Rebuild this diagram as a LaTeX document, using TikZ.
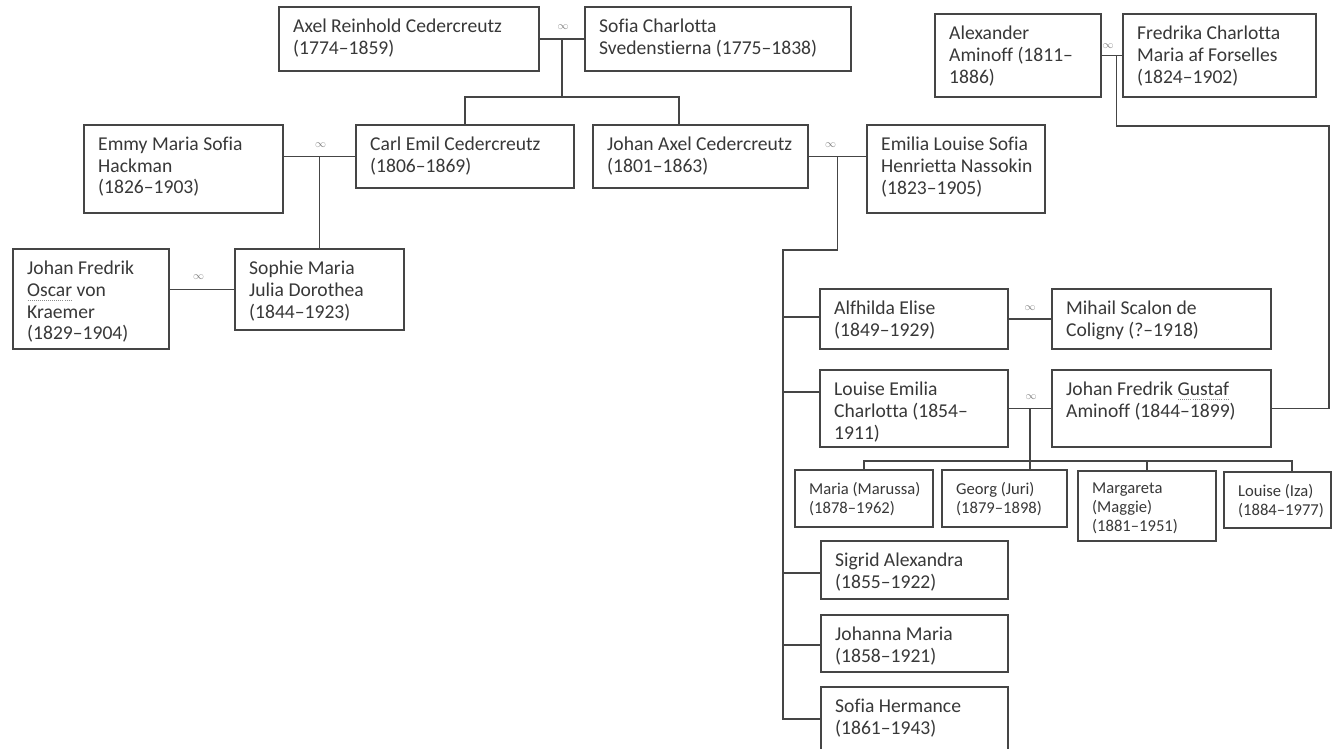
\documentclass[tikz,border=0pt]{standalone}
\usepackage{fontspec}
\setmainfont{Carlito}[Ligatures=NoCommon]
\usetikzlibrary{calc}
\definecolor{ink}{HTML}{383838}
\definecolor{linec}{HTML}{454545}
\newsavebox\ulbox
\newcommand\dotul[1]{\sbox\ulbox{#1}\rlap{\raisebox{-4pt}{\color{black!45}\hbox to \wd\ulbox{\xleaders\hbox to 2pt{\hss\rule{1pt}{0.8pt}\hss}\hfill}}}\usebox\ulbox}
\tikzset{
  pbox/.style={draw=linec, line width=1.5pt, fill=white, inner sep=0pt, outer sep=0pt},
  ptext/.style={text=ink, align=left, inner sep=0pt, font={\fontsize{19.6}{21.6}\selectfont}},
  stext/.style={text=ink, align=left, inner sep=0pt, font={\fontsize{16.6}{19}\selectfont}},
  conn/.style={draw=linec, line width=1.5pt},
  inf/.style={text=black!50, inner sep=0pt, font={\fontsize{11}{11}\selectfont}},
}
% name, x1, y1, x2, y2, text style, text
\newcommand\person[7]{%
  \node[pbox, minimum width={#4-#2}, minimum height={#5-#3}, anchor=north west] (#1) at (#2,#3) {};
  \node[#6, anchor=north west] (#1-t) at ($(#1.north west)+(14,12)$) {#7};
}
\begin{document}
\begin{tikzpicture}[x=1pt,y=-1pt]
\useasboundingbox (0,0) rectangle (1332,748);
\clip (0,0) rectangle (1332,748);
\fill[white] (0,0) rectangle (1332,748);

% ---------- persons ----------
\person{axel}{279}{7}{539}{71}{ptext}{Axel Reinhold Cedercreutz\\(1774–1859)}
\person{sofiac}{585}{7}{851}{71}{ptext}{Sofia Charlotta\\Svedenstierna (1775–1838)}
\person{emmy}{84}{125}{283}{213}{ptext}{Emmy Maria Sofia\\Hackman\\(1826–1903)}
\person{carl}{356}{125}{574}{188}{ptext}{Carl Emil Cedercreutz\\(1806–1869)}
\person{johan}{593}{125}{808}{188}{ptext}{Johan Axel Cedercreutz\\(1801–1863)}
\person{emilia}{867}{125}{1045}{213}{ptext}{Emilia Louise Sofia\\Henrietta Nassokin\\(1823–1905)}
\person{kraemer}{13}{249}{169}{349}{ptext}{Johan Fredrik\\\dotul{Oscar} von\\Kraemer\\(1829–1904)}
\person{sophie}{235}{249}{404}{330}{ptext}{Sophie Maria\\Julia Dorothea\\(1844–1923)}
\person{alexander}{935}{14}{1101}{97}{ptext}{Alexander\\Aminoff (1811–\\1886)}
\person{fredrika}{1123}{14}{1316}{97}{ptext}{Fredrika Charlotta\\Maria af Forselles\\(1824–1902)}
\person{alfhilda}{820}{289}{1008}{349}{ptext}{Alfhilda Elise\\(1849–1929)}
\person{mihail}{1052}{289}{1271}{349}{ptext}{Mihail Scalon de\\Coligny (?–1918)}
\person{louisee}{820}{370}{1008}{447}{ptext}{Louise Emilia\\Charlotta (1854–\\1911)}
\person{gustaf}{1052}{370}{1271}{447}{ptext}{Johan Fredrik \dotul{Gustaf}\\Aminoff (1844–1899)}
\person{maria}{795}{470}{933}{527}{stext}{Maria (Marussa)\\(1878–1962)}
\person{georg}{942}{470}{1067}{527}{stext}{Georg (Juri)\\(1879–1898)}
\person{margareta}{1078}{471}{1216}{541}{stext}{Margareta\\(Maggie)\\(1881–1951)}
\person{louisei}{1224}{472}{1331}{528}{stext}{Louise (Iza)\\(1884–1977)}
\person{sigrid}{821}{541}{1008}{599}{ptext}{Sigrid Alexandra\\(1855–1922)}
\person{johanna}{821}{615}{1008}{672}{ptext}{Johanna Maria\\(1858–1921)}
\person{sofiah}{821}{687}{1008}{770}{ptext}{Sofia Hermance\\(1861–1943)}

% ---------- Axel + Sofia Charlotta ----------
\draw[conn] (axel.east) -- (sofiac.west);
\coordinate (m1) at ($(axel.east)!0.5!(sofiac.west)$);
\coordinate (b1) at ($(m1)+(0,58)$);
\coordinate (jax) at ($(johan.north west)!0.4!(johan.north east)$);
\draw[conn] (m1) -- (b1);
\draw[conn] (carl.north) |- (b1);
\draw[conn] (jax) |- (b1);
\node[inf] (i1) at ($(m1)+(1,-12)$) {$\infty$};

% ---------- Emmy + Carl Emil ----------
\draw[conn] (emmy.east |- carl.west) -- (carl.west);
\coordinate (m2) at ($(emmy.east |- carl.west)!0.5!(carl.west)$);
\draw[conn] (m2) -- (sophie.north);
\node[inf] (i2) at ($(m2)+(1,-11)$) {$\infty$};

% ---------- Kraemer + Sophie ----------
\draw[conn] (kraemer.east |- sophie.west) -- (sophie.west);
\coordinate (m6) at ($(kraemer.east |- sophie.west)!0.45!(sophie.west)$);
\node[inf] (i3) at ($(m6)+(0,-12)$) {$\infty$};

% ---------- Johan Axel + Emilia ----------
\draw[conn] (johan.east) -- (johan.east -| emilia.west);
\coordinate (m3) at ($(johan.east)!0.5!(johan.east -| emilia.west)$);
\coordinate (t3) at ($(m3 |- emilia.south)+(0,37)$);
\coordinate (t4) at (783,0 |- t3);
\coordinate (a1) at ($(alfhilda.north west)+(0,28)$);
\coordinate (a2) at ($(louisee.north west)+(0,22)$);
\coordinate (a3) at ($(sigrid.north west)+(0,32)$);
\coordinate (a4) at ($(johanna.north west)+(0,30)$);
\coordinate (a5) at ($(sofiah.north west)+(0,32)$);
\draw[conn] (m3) -- (t3) -- (t4) -- (t4 |- a5) -- (a5);
\draw[conn] (t4 |- a1) -- (a1);
\draw[conn] (t4 |- a2) -- (a2);
\draw[conn] (t4 |- a3) -- (a3);
\draw[conn] (t4 |- a4) -- (a4);
\node[inf] (i4) at ($(m3)+(-7,-11)$) {$\infty$};

% ---------- Alfhilda + Mihail ----------
\draw[conn] (alfhilda.east) -- (mihail.west);
\coordinate (m7) at ($(alfhilda.east)!0.5!(mihail.west)$);
\node[inf] (i5) at ($(m7)+(0,-11)$) {$\infty$};

% ---------- Louise Emilia + Gustaf ----------
\draw[conn] (louisee.east) -- (gustaf.west);
\coordinate (m4) at ($(louisee.east)!0.5!(gustaf.west)$);
\coordinate (b4) at ($(m4 |- georg.north)+(0,-9)$);
\coordinate (izd) at ($(louisei.north west)+(68,0)$);
\draw[conn] (m4) -- (m4 |- georg.north);
\draw[conn] (maria.north) |- (b4);
\draw[conn] (margareta.north) |- (b4);
\draw[conn] (izd) |- (b4);
\node[inf] (i6) at ($(m4)+(1,-11)$) {$\infty$};

% ---------- Alexander + Fredrika ----------
\draw[conn] (alexander.east) -- (fredrika.west);
\coordinate (m5) at ($(alexander.east)!0.7!(fredrika.west)$);
\coordinate (r1) at (1329,126);
\draw[conn] (m5) |- (r1) |- (gustaf.east);
\node[inf] (i7) at ($(alexander.east)+(7,-9)$) {$\infty$};
\end{tikzpicture}
\end{document}
